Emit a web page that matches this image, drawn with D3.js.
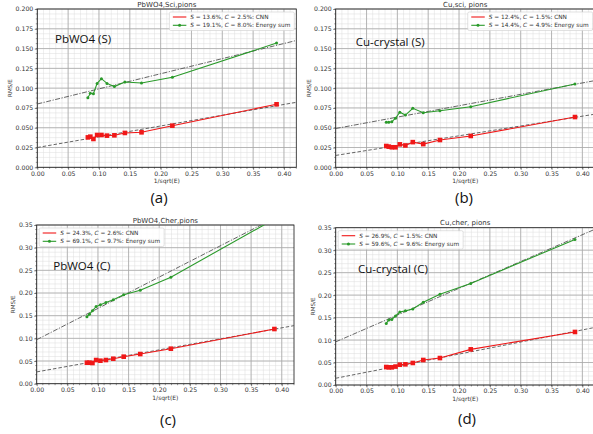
<!DOCTYPE html>
<html><head><meta charset="utf-8">
<script src="https://cdn.jsdelivr.net/npm/d3@7"></script>
<style>
body{margin:0;background:#fff;}
svg text{font-family:"DejaVu Sans",sans-serif;}
</style></head>
<body><svg id="c" width="593" height="434"></svg>
<script>
// ---------- data ----------
const xs = [0.082, 0.086, 0.091, 0.097, 0.104, 0.113, 0.125, 0.142, 0.169, 0.219, 0.388];
const titles = ["PbWO4,Sci,pions", "Cu,sci, pions", "PbWO4,Cher,pions", "Cu,cher, pions"];
const tags = ["PbWO4 (S)", "Cu-crystal (S)", "PbWO4 (C)", "Cu-crystal (C)"];
const captions = ["(a)", "(b)", "(c)", "(d)"];
const cnnS = [13.6, 12.4, 24.3, 26.9];
const cnnC = [2.5, 1.5, 2.6, 1.5];
const sumS = [19.1, 14.4, 69.1, 59.6];
const sumC = [8.0, 4.9, 9.7, 9.6];
const cnnA = [0.0378, 0.0387, 0.0358, 0.0408, 0.0408, 0.0400, 0.0404, 0.0434, 0.0442, 0.0526, 0.0796];
const sumA = [0.0880, 0.0935, 0.0930, 0.1060, 0.1120, 0.1060, 0.1020, 0.1078, 0.1065, 0.1137, 0.1570];
const cnnB = [0.0269, 0.0261, 0.0253, 0.0253, 0.0290, 0.0276, 0.0318, 0.0293, 0.0345, 0.0396, 0.0635];
const sumB = [0.0570, 0.0570, 0.0575, 0.0620, 0.0695, 0.0660, 0.0745, 0.0690, 0.0715, 0.0766, 0.1053];
const cnnCh = [0.0463, 0.0463, 0.0456, 0.0522, 0.0507, 0.0522, 0.0551, 0.0596, 0.0654, 0.0772, 0.1206];
const sumCh = [0.1478, 0.1530, 0.1610, 0.1700, 0.1740, 0.1790, 0.1850, 0.1960, 0.2060, 0.2350, 0.3630];
const cnnD = [0.0400, 0.0393, 0.0393, 0.0410, 0.0452, 0.0460, 0.0490, 0.0556, 0.0600, 0.0793, 0.1180];
const sumD = [0.1370, 0.1446, 0.1460, 0.1535, 0.1624, 0.1650, 0.1690, 0.1840, 0.2017, 0.2260, 0.3240];
const cnnSeries = [cnnA, cnnB, cnnCh, cnnD];
const sumSeries = [sumA, sumB, sumCh, sumD];
const yMax = [0.2, 0.2, 0.35, 0.35];
const yStep = [0.025, 0.025, 0.05, 0.05];
const yMinorStep = [0.00625, 0.00625, 0.01, 0.01];
const yFmt = [".3f", ".3f", ".2f", ".2f"];
const xTicks = [0, 0.05, 0.10, 0.15, 0.20, 0.25, 0.30, 0.35, 0.40];

// ---------- layout ----------
const boxes = [
  {l:37.3, r:296.3, t:9, b:167.3, leg:"ur", tag:[55, 43], cap:[159, 203], ylab:25},
  {l:335.7, r:594.7, t:9, b:167.3, leg:"ur", tag:[355.7, 46], cap:[464, 203], ylab:25},
  {l:36.7, r:294, t:225, b:383.7, leg:"ul", tag:[53.3, 270], cap:[168, 425], ylab:22},
  {l:335.7, r:594.7, t:227.7, b:385, leg:"ul", tag:[358, 273], cap:[467, 424], ylab:21}
];
const RED = "#f01818", GREEN = "#2a9a2a", FIT = "#555";

const svg = d3.select("#c");

boxes.forEach((B, i) => {
  const x = d3.scaleLinear().domain([0, 0.42]).range([B.l, B.r]);
  const y = d3.scaleLinear().domain([0, yMax[i]]).range([B.b, B.t]);
  const g = svg.append("g");
  const cid = "clip" + i;
  svg.append("clipPath").attr("id", cid).append("rect")
    .attr("x", B.l).attr("y", B.t).attr("width", B.r - B.l).attr("height", B.b - B.t);

  // minor grid
  const xMinor = d3.range(0, 0.4201, 0.01);
  const yMinor = d3.range(0, yMax[i] + 1e-9, yMinorStep[i]);
  g.append("g").selectAll("line").data(xMinor).join("line")
    .attr("x1", d => x(d)).attr("x2", d => x(d)).attr("y1", B.t).attr("y2", B.b)
    .attr("stroke", "#dcdcdc").attr("stroke-width", 0.5);
  g.append("g").selectAll("line").data(yMinor).join("line")
    .attr("y1", d => y(d)).attr("y2", d => y(d)).attr("x1", B.l).attr("x2", B.r)
    .attr("stroke", "#dcdcdc").attr("stroke-width", 0.5);
  // major grid
  const yTicks = d3.range(0, yMax[i] + 1e-9, yStep[i]);
  g.append("g").selectAll("line").data(xTicks).join("line")
    .attr("x1", d => x(d)).attr("x2", d => x(d)).attr("y1", B.t).attr("y2", B.b)
    .attr("stroke", "#a8a8a8").attr("stroke-width", 0.8);
  g.append("g").selectAll("line").data(yTicks).join("line")
    .attr("y1", d => y(d)).attr("y2", d => y(d)).attr("x1", B.l).attr("x2", B.r)
    .attr("stroke", "#a8a8a8").attr("stroke-width", 0.8);

  // axes
  const xa = g.append("g").attr("transform", `translate(0,${B.b})`)
    .call(d3.axisBottom(x).tickValues(xTicks).tickFormat(d3.format(".2f")).tickSize(2.5).tickPadding(1.5));
  const ya = g.append("g").attr("transform", `translate(${B.l},0)`)
    .call(d3.axisLeft(y).tickValues(yTicks).tickFormat(d3.format(yFmt[i])).tickSize(2.5).tickPadding(1.5));
  // minor ticks
  g.append("g").selectAll("line").data(xMinor).join("line")
    .attr("x1", d => x(d)).attr("x2", d => x(d)).attr("y1", B.b).attr("y2", B.b + 1.5)
    .attr("stroke", "#333").attr("stroke-width", 0.5);
  g.append("g").selectAll("line").data(yMinor).join("line")
    .attr("y1", d => y(d)).attr("y2", d => y(d)).attr("x1", B.l).attr("x2", B.l - 1.5)
    .attr("stroke", "#333").attr("stroke-width", 0.5);
  [xa, ya].forEach(a => {
    a.select(".domain").remove();
    a.selectAll("line").attr("stroke", "#333").attr("stroke-width", 0.6);
    a.selectAll("text").attr("font-size", 6.2).attr("fill", "#333");
  });
  // frame
  g.append("rect").attr("x", B.l).attr("y", B.t).attr("width", B.r - B.l).attr("height", B.b - B.t)
    .attr("fill", "none").attr("stroke", "#222").attr("stroke-width", 0.8);

  // fit lines
  const plot = g.append("g").attr("clip-path", `url(#${cid})`);
  const fitLine = d3.line().x(d => x(d[0])).y(d => y(d[1]));
  const xr = [0, 0.42];
  plot.append("path").datum(xr.map(v => [v, cnnC[i] / 100 + cnnS[i] / 100 * v]))
    .attr("d", fitLine).attr("fill", "none").attr("stroke", FIT).attr("stroke-width", 0.9)
    .attr("stroke-dasharray", "3.5,2");
  plot.append("path").datum(xr.map(v => [v, sumC[i] / 100 + sumS[i] / 100 * v]))
    .attr("d", fitLine).attr("fill", "none").attr("stroke", FIT).attr("stroke-width", 0.9)
    .attr("stroke-dasharray", "5,1.5,1.2,1.5");

  // data lines
  const ln = d3.line().x((d, k) => x(xs[k])).y(d => y(d));
  plot.append("path").datum(sumSeries[i]).attr("d", ln).attr("fill", "none")
    .attr("stroke", GREEN).attr("stroke-width", 1.1);
  plot.append("g").selectAll("circle").data(sumSeries[i]).join("circle")
    .attr("cx", (d, k) => x(xs[k])).attr("cy", d => y(d)).attr("r", 1.5).attr("fill", GREEN);
  plot.append("path").datum(cnnSeries[i]).attr("d", ln).attr("fill", "none")
    .attr("stroke", RED).attr("stroke-width", 1.1);
  plot.append("g").selectAll("rect").data(cnnSeries[i]).join("rect")
    .attr("x", (d, k) => x(xs[k]) - 2.3).attr("y", d => y(d) - 2.3)
    .attr("width", 4.6).attr("height", 4.6).attr("fill", RED);

  // title and labels
  g.append("text").attr("x", (B.l + B.r) / 2).attr("y", B.t - 2.5).attr("text-anchor", "middle")
    .attr("font-size", 7).attr("fill", "#333").text(titles[i]);
  g.append("text").attr("x", (B.l + B.r) / 2).attr("y", B.b + 16).attr("text-anchor", "middle")
    .attr("font-size", 6).attr("fill", "#333").text("1/sqrt(E)");
  g.append("text").attr("transform", `translate(${B.l - B.ylab},${(B.t + B.b) / 2}) rotate(-90)`)
    .attr("text-anchor", "middle").attr("font-size", 5.6).attr("fill", "#333").text("RMS/E");
  g.append("text").attr("x", B.tag[0]).attr("y", B.tag[1])
    .attr("font-family", "'Open Sans',sans-serif").attr("font-size", 11.5).attr("fill", "#111")
    .style("font-family", "'Open Sans',sans-serif").text(tags[i]);
  svg.append("text").attr("x", B.cap[0]).attr("y", B.cap[1]).attr("text-anchor", "middle")
    .style("font-family", "'Open Sans',sans-serif").attr("font-size", 15).attr("fill", "#111").text(captions[i]);

  // legend
  const lg = g.append("g");
  const entries = [
    {S: cnnS[i], C: cnnC[i], name: "CNN", col: RED, mk: false},
    {S: sumS[i], C: sumC[i], name: "Energy sum", col: GREEN, mk: true}
  ];
  const bg = lg.append("rect");
  let maxW = 0;
  const rows = entries.map((e, k) => {
    const t = lg.append("text").attr("font-size", 5.8).attr("fill", "#333");
    t.append("tspan").attr("font-style", "italic").text("S");
    t.append("tspan").text(` = ${e.S.toFixed(1)}%, `);
    t.append("tspan").attr("font-style", "italic").text("C");
    t.append("tspan").text(` = ${e.C.toFixed(1)}%: ${e.name}`);
    maxW = Math.max(maxW, t.node().getComputedTextLength());
    return t;
  });
  const lw = maxW + 25, lh = 18.5;
  const lx = B.leg === "ur" ? B.r - lw - 2 : B.l + 2.5;
  const ly = B.t + 3;
  bg.attr("x", lx).attr("y", ly).attr("width", lw).attr("height", lh).attr("rx", 1.5)
    .attr("fill", "rgba(255,255,255,0.85)").attr("stroke", "#ccc").attr("stroke-width", 0.6);
  rows.forEach((t, k) => {
    const yy = ly + 5 + k * 8.3;
    t.attr("x", lx + 21).attr("y", yy + 2);
    lg.append("line").attr("x1", lx + 3.5).attr("x2", lx + 17).attr("y1", yy).attr("y2", yy)
      .attr("stroke", entries[k].col).attr("stroke-width", 1.1);
    if (entries[k].mk) lg.append("circle").attr("cx", lx + 10.25).attr("cy", yy).attr("r", 1.5)
      .attr("fill", entries[k].col);
  });
});
</script></body></html>
